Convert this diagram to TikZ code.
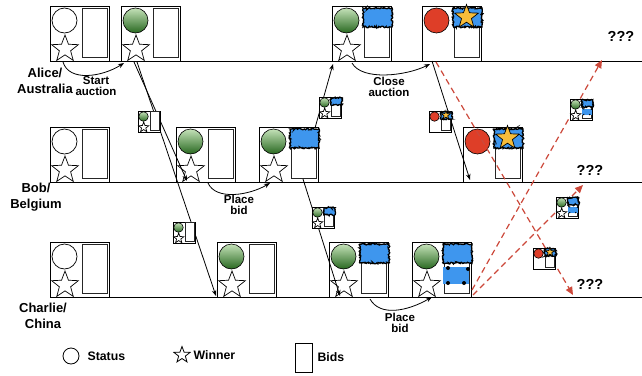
\documentclass[tikz,border=0pt]{standalone}
\usepackage{fontspec}
\setmainfont{Liberation Sans}
\usetikzlibrary{positioning,calc,arrows.meta,shapes.geometric,decorations.pathmorphing}

\definecolor{stlight}{RGB}{196,226,184}
\definecolor{stdark}{RGB}{40,104,32}
\definecolor{stred}{RGB}{222,62,40}
\definecolor{bidblue}{RGB}{62,150,238}
\definecolor{winyellow}{RGB}{246,188,58}
\definecolor{dashred}{RGB}{204,72,58}

\tikzset{
  boxline/.style={draw=black, fill=white, line width=0.8pt},
  bidline/.style={draw=black!85, line width=0.9pt},
  stidle/.style={draw=black, fill=white, line width=0.7pt},
  stopen/.style={draw=black, top color=stlight, bottom color=stdark, line width=0.6pt},
  stclosed/.style={draw=black, fill=stred, line width=0.6pt},
  blob/.style={draw=black, fill=bidblue, line width=1.3pt, decorate,
    decoration={random steps, segment length=0.9pt, amplitude=0.8pt}},
  timeline/.style={line width=0.9pt},
  flow/.style={line width=0.8pt, -{Stealth[length=6pt,width=4.5pt]}},
  lost/.style={dashred, line width=1.2pt, dash pattern=on 6pt off 4pt,
    -{Triangle[length=8pt,width=7pt]}},
  who/.style={font=\bfseries\fontsize{13}{16}\selectfont, align=center},
  act/.style={font=\bfseries\fontsize{11.5}{10.5}\selectfont, align=center},
  qq/.style={font=\bfseries\fontsize{14.5}{16}\selectfont},
  legtext/.style={font=\bfseries\fontsize{12.3}{14}\selectfont, inner sep=0}
}

% star: centre, outer radius, inner radius, fill
\newcommand{\wstar}[4]{\draw[fill=#4, line width=0.7pt] (#1) +(270:#2)
  \foreach \k in {0,...,4}{ -- +({306+72*\k}:#3) -- +({342+72*\k}:#2)} -- cycle;}
\newcommand{\winner}{\wstar{15,43}{14}{5.9}{white}}
\newcommand{\bidone}{\draw[blob] (31,2) rectangle (60,21);}
\newcommand{\bidwin}{\bidone\wstar{44.5,11}{12.5}{5.2}{winyellow}}
\newcommand{\bidtwo}{\bidone
  \fill[bidblue] (31,25) rectangle (57,42);
  \fill (36,26) circle (2); \fill (56,27) circle (2);
  \fill (36,41) circle (2); \fill (52,41) circle (2);}

% snapshot: name, x, y, scale, status, contents
\newcommand{\snap}[6]{%
  \begin{scope}[shift={(#2,#3)}, scale=#4]
    \draw[boxline] (0,0) rectangle (59,55);
    \draw[bidline] (32,2) rectangle (57,51);
    \draw[#5] (14.5,14.5) circle (12.5);
    #6
    \coordinate (#1-nw) at (0,0);
    \coordinate (#1-ne) at (59,0);
    \coordinate (#1-sw) at (0,55);
    \coordinate (#1-se) at (59,55);
    \coordinate (#1-sb) at (15,55);
  \end{scope}}

\begin{document}
\begin{tikzpicture}[x=1pt, y=-1pt]
\pgfmathsetseed{7}
\useasboundingbox (0,0) rectangle (642,375);

\draw[timeline] (50,61) -- (642,61);
\draw[timeline] (50,182) -- (642,182);
\draw[timeline] (50,297) -- (642,297);

\node[who] (alice) at (45,81) {Alice/\\Australia};
\node[who] (bob) at (36,197) {Bob/\\Belgium};
\node[who] (charlie) at (43,316) {Charlie/\\China};

\snap{a1}{50}{6}{1}{stidle}{\winner}
\snap{a2}{121}{6}{1}{stopen}{\winner}
\snap{a3}{332}{6}{1}{stopen}{\winner\bidone}
\snap{a4}{422}{6}{1}{stclosed}{\bidwin}

\snap{b1}{50}{127}{1}{stidle}{\winner}
\snap{b2}{176}{127}{1}{stopen}{\winner}
\snap{b3}{259}{127}{1}{stopen}{\winner\bidone}
\snap{b4}{463}{127}{1}{stclosed}{\bidwin}

\snap{c1}{50}{242}{1}{stidle}{\winner}
\snap{c2}{217}{242}{1}{stopen}{\winner}
\snap{c3}{329}{242}{1}{stopen}{\winner\bidone}
\snap{c4}{412}{242}{1}{stopen}{\winner\bidtwo}

\node[act] (t1) at (96,86) {Start\\auction};
\node[act] (t2) at (389,87) {Close\\auction};
\node[act] (t3) at (239,205) {Place\\bid};
\node[act] (t4) at (400,323) {Place\\bid};

\node[qq] (q1) at (621,36) {???};
\node[qq] (q2) at (590,170) {???};
\node[qq] (q3) at (590,284) {???};
\coordinate (r1) at (602,60);
\coordinate (r2) at (583,185);
\coordinate (r3) at (573,295);

\begin{scope}[flow]
\draw ($(a1-sb)+(-2,1)$) .. controls +(6,20) and +(-22,14) .. ($(a2-sw)+(3,2)$);
\draw ($(a2-sb)+(-2,1)$) -- ($(b2-sb)+(-4,-1)$);
\draw ($(a2-sb)+(1,1)$) -- ($(c2-sw)+(-1,-1)$);
\draw ($(b2-sw)+(32,1)$) .. controls +(8,18) and +(-20,12) .. ($(b3-sw)+(11,1)$);
\draw ($(b3-ne)+(-3,1)$) -- ($(a3-sw)+(1,3)$);
\draw ($(b3-sw)+(44,-3)$) -- ($(c3-sb)+(-4,-1)$);
\draw ($(a3-sw)+(20,2)$) .. controls +(10,18) and +(-24,12) .. ($(a4-sw)+(8,3)$);
\draw ($(c3-sw)+(41,2)$) .. controls +(10,18) and +(-24,14) .. ($(c4-sw)+(20,0)$);
\draw ($(a4-sw)+(10,0)$) -- ($(b4-sw)+(7,-2)$);
\end{scope}

\begin{scope}[lost]
\draw ($(a4-sw)+(14,1)$) -- (r3);
\draw ($(c4-se)+(1,-7)$) -- (r1);
\draw ($(c4-se)+(2,-2)$) -- (r2);
\end{scope}

\snap{m1}{138}{111}{0.38}{stopen}{\winner}
\snap{m2}{173}{222}{0.38}{stopen}{\winner}
\snap{m3}{319}{97}{0.38}{stopen}{\winner\bidone}
\snap{m4}{312}{207}{0.38}{stopen}{\winner\bidone}
\snap{m5}{429}{111}{0.38}{stclosed}{\bidwin}
\snap{m6}{570}{99}{0.38}{stopen}{\winner\bidtwo}
\snap{m7}{556}{197}{0.38}{stopen}{\winner\bidtwo}
\snap{m8}{533}{248}{0.38}{stclosed}{\bidwin}

\node[draw, circle, minimum size=16, inner sep=0, line width=0.8pt] (lstat) at (71,356) {};
\node[legtext, right=8pt of lstat] (tstat) {Status};
\node[draw, star, star points=5, star point ratio=2.4, minimum size=17, inner sep=0, line width=0.8pt] (lwin) at (182,355) {};
\node[legtext, right=6pt of lwin.east] (twin) {Winner};
\node[draw, minimum width=17, minimum height=29, inner sep=0, line width=0.8pt] (lbid) at (303.5,357.5) {};
\node[legtext, right=5pt of lbid] (tbid) {Bids};
\end{tikzpicture}
\end{document}
